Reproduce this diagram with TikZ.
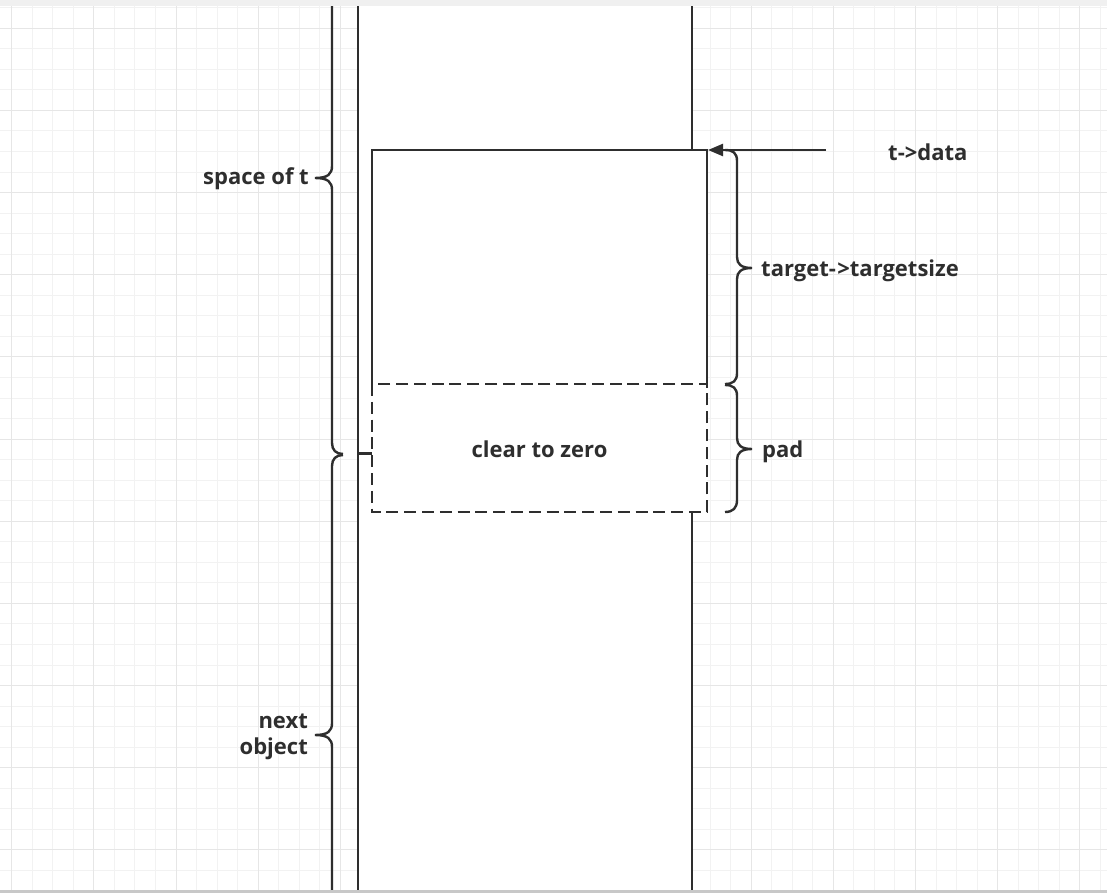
\documentclass[tikz,border=0pt]{standalone}
\usepackage{fontspec}
\setmainfont{Open Sans}
\usetikzlibrary{arrows.meta}
\definecolor{ink}{HTML}{2E2E2E}
\definecolor{gminor}{HTML}{F2F2F2}
\definecolor{gmajor}{HTML}{E6E6E6}
\definecolor{topbar}{HTML}{F0F0F0}
\definecolor{botbar}{HTML}{C8C8C8}
\begin{document}
\begin{tikzpicture}[x=1pt,y=-1pt,
  ln/.style={draw=ink,line width=2.4pt},
  dashln/.style={draw=ink,line width=2.4pt,dash pattern=on 12pt off 5.8pt},
  lbl/.style={text=ink,font=\fontsize{22}{26.7}\selectfont\bfseries,inner sep=0pt},
  gmin/.style={draw=gminor,line width=1pt},
  gmaj/.style={draw=gmajor,line width=1pt}]
\useasboundingbox (0,0) rectangle (1107,893);
\clip (0,0) rectangle (1107,893);
\fill[white] (0,0) rectangle (1107,893);
% grid
\foreach \i in {0,...,53} \draw[gmin] ({11.7+20.54*\i},0) -- ++(0,893);
\foreach \j in {-1,...,42} \draw[gmin] (0,{28.3+20.54*\j}) -- ++(1107,0);
\foreach \i in {0,4,...,52} \draw[gmaj] ({11.7+20.54*\i},0) -- ++(0,893);
\foreach \j in {0,4,...,40} \draw[gmaj] (0,{28.3+20.54*\j}) -- ++(1107,0);
% memory column
\fill[white] (358,0) rectangle (692,893);
\coordinate (colLtop) at (358,0);
\coordinate (colLbot) at (358,893);
\coordinate (colRtop) at (692,0);
\coordinate (colRbot) at (692,893);
\draw[ln] (colLtop) -- (colLbot);
\draw[ln] (colRtop) -- (colRbot);
% target box and pad box
\coordinate (bTL) at (372,150);
\coordinate (bTR) at (707,150);
\coordinate (bML) at (372,384);
\coordinate (bMR) at (707,384);
\coordinate (bBL) at (372,512);
\coordinate (bBR) at (707,512);
\fill[white] (bTL) rectangle (bBR);
\draw[ln] (bML) -- (bTL) -- (bTR) -- (bMR);
\draw[dashln] (bML) rectangle (bBR);
\coordinate (stub) at (358,453.5);
\draw[ln] (stub) -- (372,453.5);
\node[lbl] (clear) at (539.5,449) {clear to zero};
% arrow t->data
\coordinate (src) at (826,150);
\coordinate (dst) at (708,150);
\draw[ln,-{Triangle[length=15pt,width=12pt]}] (src) -- (dst);
\node[lbl,anchor=base west] (tdata) at (888,161) {t->data};
% right braces
\draw[ln] (725,150) .. controls (733,150) and (737,153) .. (737,161) -- (737,257)
  .. controls (737,264) and (741,268) .. (752,268)
  .. controls (741,268) and (737,272) .. (737,279) -- (737,373)
  .. controls (737,381) and (733,384) .. (725,384);
\node[lbl,anchor=base west] (tsize) at (761,276) {target-\kern1.5pt>targetsize};
\draw[ln] (725,385) .. controls (733,385) and (737,388) .. (737,396) -- (737,438)
  .. controls (737,445) and (741,449) .. (752,449)
  .. controls (741,449) and (737,453) .. (737,460) -- (737,500)
  .. controls (737,508) and (733,512) .. (725,512);
\node[lbl,anchor=base west] (pad) at (762,457) {pad};
% left braces
\draw[ln] (332,-20) -- (332,166)
  .. controls (332,174) and (328,178) .. (315,178)
  .. controls (328,178) and (332,182) .. (332,190) -- (332,443)
  .. controls (332,450) and (336,454) .. (343,454);
\node[lbl,anchor=base east] (space) at (309,185) {space of t};
\draw[ln] (343,455) .. controls (336,455) and (332,459) .. (332,466) -- (332,723)
  .. controls (332,731) and (328,735) .. (315,735)
  .. controls (328,735) and (332,739) .. (332,747) -- (332,910);
\node[lbl,anchor=east,align=right] (next) at (308,737) {next\\object};
% window bars
\fill[topbar] (0,0) rectangle (1107,6);
\fill[botbar] (0,890) rectangle (1107,893);
\end{tikzpicture}
\end{document}
